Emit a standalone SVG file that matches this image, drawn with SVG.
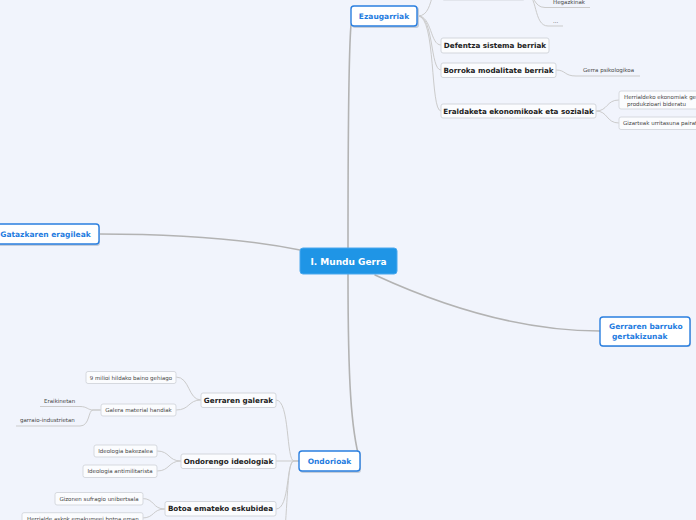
<svg xmlns="http://www.w3.org/2000/svg" width="696" height="520" viewBox="0 0 696 520">
<style>
.bg{fill:#f1f4fc}
.main{fill:none;stroke:#b3b3b3;stroke-width:1.6;stroke-linecap:round}
.sub{fill:none;stroke:#cbcbcb;stroke-width:1}
.l1{fill:#fff;stroke:#2a7fe0;stroke-width:1.4}
.sh{fill:#c5cdd9}
.l1t{font-family:"DejaVu Sans",Verdana,sans-serif;font-weight:bold;font-size:7.5px;fill:#1f7ce0;text-anchor:middle}
.l2{fill:#fbfcfe;stroke:#d3d6dc;stroke-width:1}
.l2t{font-family:"DejaVu Sans",Verdana,sans-serif;font-weight:bold;font-size:7.2px;fill:#222;text-anchor:middle}
.l3{fill:#fbfcfe;stroke:#d6d9df;stroke-width:1}
.l3t{font-family:"DejaVu Sans",Verdana,sans-serif;font-size:5.5px;fill:#444;text-anchor:middle}
.ft{font-family:"DejaVu Sans",Verdana,sans-serif;font-size:5.5px;fill:#444}
</style>
<rect class="bg" x="0" y="0" width="696" height="520"/>
<g id="connectors">
<path class="main" d="M348,248 C348,150 348,60 351,25"/>
<path class="main" d="M300,250 C240,238 170,234 99,234"/>
<path class="main" d="M375,275 C440,305 520,331 600,331"/>
<path class="main" d="M348,274 C348,380 351,430 360,461"/>
<path class="sub" d="M418,16 C428,16 430,4 433,-6 L442,-7"/>
<path class="sub" d="M418,16 C432,16 430,45 441,45"/>
<path class="sub" d="M418,16 C434,16 430,70 441,70"/>
<path class="sub" d="M418,16 C436,16 430,111 441,111"/>
<path class="sub" d="M525,-7 C535,-7 533,7.5 545,7.5 L590,7.5"/>
<path class="sub" d="M525,-7 C538,-7 533,26 548,26 L563,26"/>
<path class="sub" d="M556,70 C566,70 564,76 576,76 L640,76"/>
<path class="sub" d="M596,111 C608,111 606,100 619,100"/>
<path class="sub" d="M596,111 C608,111 606,123 619,123"/>
<path class="sub" d="M299,461 L294,461 C286,461 290,400 276,400"/>
<path class="sub" d="M299,461 L276,461"/>
<path class="sub" d="M299,461 L294,461 C286,461 290,509 276,509"/>
<path class="sub" d="M299,461 L294,461 C288,461 288,490 285,530"/>
<path class="sub" d="M201,400 C188,400 190,377 176,377"/>
<path class="sub" d="M201,400 C188,400 190,410 176,410"/>
<path class="sub" d="M101,410 L93,410 C88,410 87,406.5 80,406.5 L40,406.5"/>
<path class="sub" d="M101,410 L93,410 C88,410 90,426 80,426 L16,426"/>
<path class="sub" d="M181,461 C168,461 170,451 157,451"/>
<path class="sub" d="M181,461 C168,461 170,471 157,471"/>
<path class="sub" d="M165,509 C152,509 155,498.5 142,498.5"/>
<path class="sub" d="M165,509 C152,509 155,518 142,518"/>
</g>
<g id="central">
<rect x="300" y="248" width="97" height="26" rx="3" fill="#1f95e6" stroke="#4aa8ee" stroke-width="1"/>
<text x="348.5" y="265" font-family="DejaVu Sans,Verdana,sans-serif" font-weight="bold" font-size="9" fill="#fff" text-anchor="middle">I. Mundu Gerra</text>
</g>
<g id="ezaugarriak">
<rect class="sh" x="352" y="7" width="67" height="21" rx="3"/>
<rect class="l1" x="351" y="6" width="66" height="20" rx="3"/>
<text class="l1t" x="384" y="18.7">Ezaugarriak</text>
</g>
<g id="gatazkaren">
<rect class="sh" x="-4" y="225" width="104" height="21" rx="3"/>
<rect class="l1" x="-5" y="224" width="104" height="20" rx="3"/>
<text class="l1t" x="45.5" y="236.8">Gatazkaren eragileak</text>
</g>
<g id="gerraren-barruko">
<rect class="sh" x="601" y="318" width="90" height="29" rx="3"/>
<rect class="l1" x="600" y="317" width="90" height="29" rx="3"/>
<text class="l1t" x="609" y="329" text-anchor="start" style="text-anchor:start">Gerraren barruko</text>
<text class="l1t" x="612" y="338.5" style="text-anchor:start">gertakizunak</text>
</g>
<g id="ondorioak">
<rect class="sh" x="300" y="452" width="61" height="21" rx="3"/>
<rect class="l1" x="299" y="451" width="61" height="20" rx="3"/>
<text class="l1t" x="329.5" y="463.8">Ondorioak</text>
</g>
<g id="ezaugarriak-top">
<rect class="l2" x="442" y="-14" width="83" height="14" rx="2"/>
</g>
<g id="hegazkinak">
<text class="ft" x="553" y="4">Hegazkinak</text>
</g>
<g id="dots">
<text class="ft" x="553" y="23">...</text>
</g>
<g id="defentza">
<rect class="l2" x="441" y="38" width="108" height="15" rx="2"/>
<text class="l2t" x="495" y="48.2">Defentza sistema berriak</text>
</g>
<g id="borroka">
<rect class="l2" x="441" y="63" width="115" height="14.5" rx="2"/>
<text class="l2t" x="498.5" y="72.8">Borroka modalitate berriak</text>
</g>
<g id="gerra-psikologikoa">
<text class="ft" x="583" y="72">Gerra psikologikoa</text>
</g>
<g id="eraldaketa">
<rect class="l2" x="441" y="104" width="155" height="14" rx="2"/>
<text class="l2t" x="518.5" y="113.6">Eraldaketa ekonomikoak eta sozialak</text>
</g>
<g id="herrialdeko">
<rect class="l3" x="619" y="91" width="90" height="18" rx="2"/>
<text class="ft" x="624" y="99">Herrialdeko ekonomiak gerra</text>
<text class="ft" x="627" y="105.5">produkzioari bideratu</text>
</g>
<g id="gizarteak">
<rect class="l3" x="619" y="117" width="90" height="12.5" rx="2"/>
<text class="ft" x="623" y="125.2">Gizarteak urritasuna pairatu</text>
</g>
<g id="gerraren-galerak">
<rect class="l2" x="201" y="393" width="75" height="14.5" rx="2"/>
<text class="l2t" x="238.5" y="402.8">Gerraren galerak</text>
</g>
<g id="milioi">
<rect class="l3" x="86" y="371.5" width="90" height="12" rx="2"/>
<text class="l3t" x="131" y="379.6">9 milioi hildako baino gehiago</text>
</g>
<g id="galera-material">
<rect class="l3" x="101" y="404" width="75" height="12" rx="2"/>
<text class="l3t" x="138.5" y="412">Galera material handiak</text>
</g>
<g id="eraikinetan">
<text class="ft" x="44" y="403">Eraikinetan</text>
</g>
<g id="garraio">
<text class="ft" x="20" y="422">garraio-industrietan</text>
</g>
<g id="ondorengo">
<rect class="l2" x="181" y="454" width="95" height="14.5" rx="2"/>
<text class="l2t" x="228.5" y="463.8">Ondorengo ideologiak</text>
</g>
<g id="bakezalea">
<rect class="l3" x="94" y="445" width="63" height="12" rx="2"/>
<text class="l3t" x="125.5" y="453">Ideologia bakezalea</text>
</g>
<g id="antimilitarista">
<rect class="l3" x="83" y="465" width="74" height="12.5" rx="2"/>
<text class="l3t" x="120" y="473.2">Ideologia antimilitarista</text>
</g>
<g id="botoa">
<rect class="l2" x="165" y="501.5" width="111" height="14.5" rx="2"/>
<text class="l2t" x="220.5" y="511.4">Botoa emateko eskubidea</text>
</g>
<g id="gizonen">
<rect class="l3" x="55" y="492.5" width="88" height="12.5" rx="2"/>
<text class="l3t" x="99" y="500.8">Gizonen sufragio unibertsala</text>
</g>
<g id="herrialde-askok">
<rect class="l3" x="22" y="512.7" width="121" height="14" rx="2"/>
<text class="ft" x="27" y="521">Herrialde askok emakumeei botoa eman</text>
</g>
</svg>
